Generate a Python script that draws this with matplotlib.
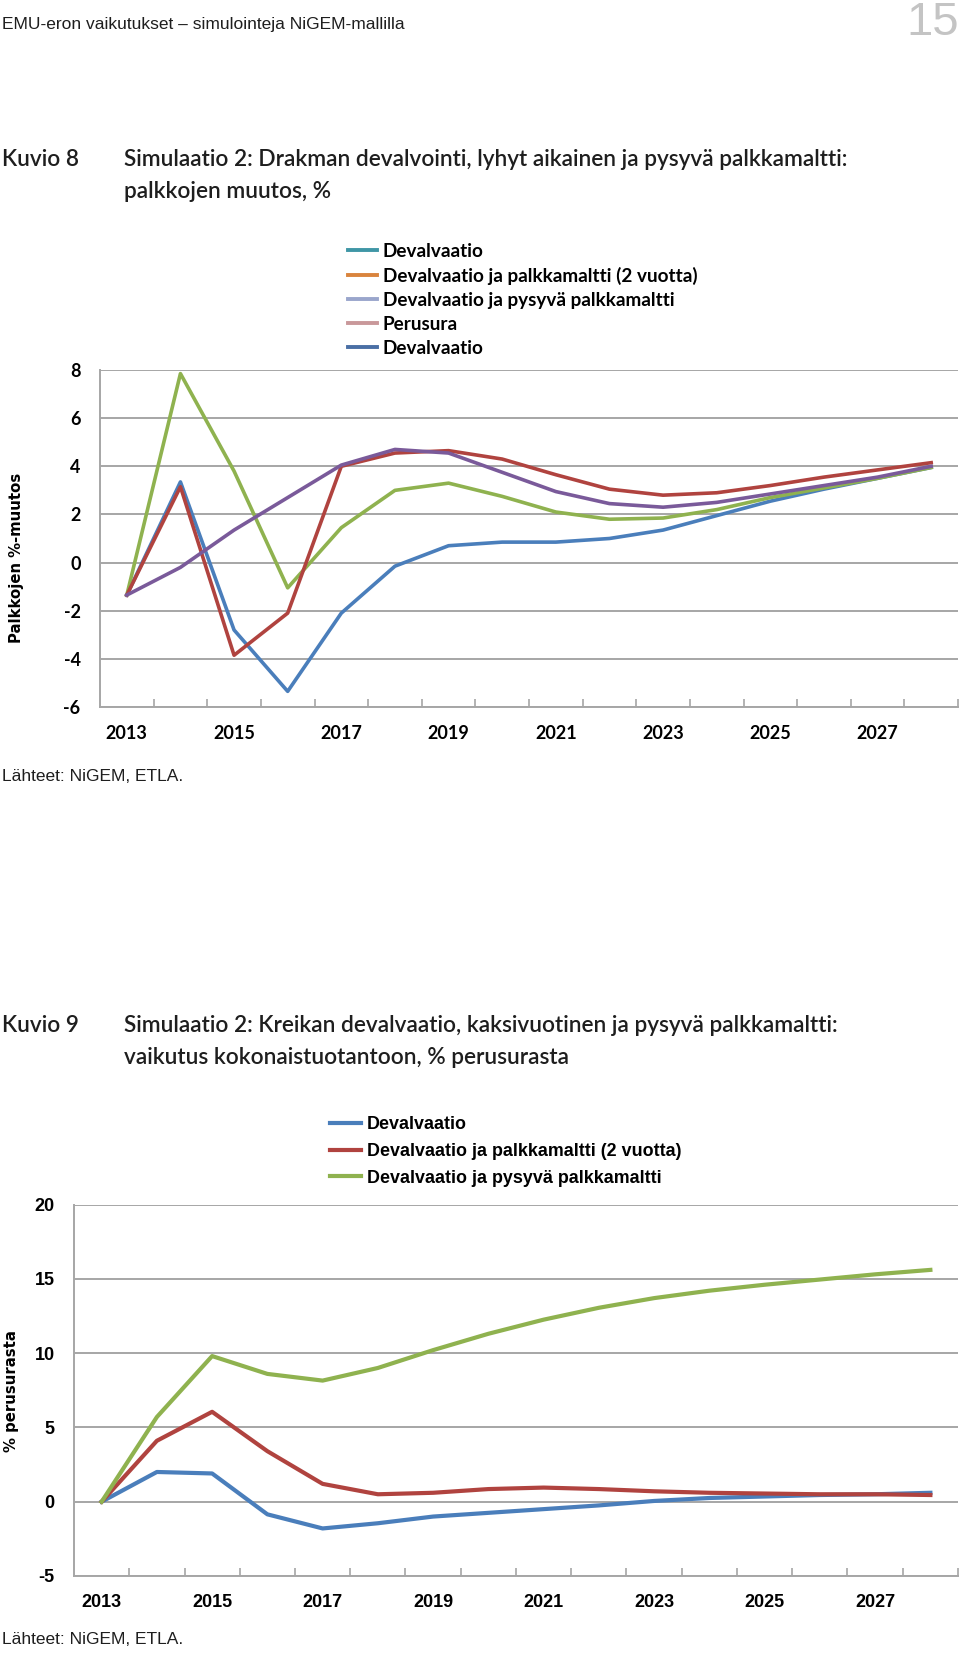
import matplotlib
matplotlib.use("Agg")
import matplotlib.pyplot as plt
from matplotlib.lines import Line2D

# ── Data ──────────────────────────────────────────────────────────────────────
YEARS = list(range(2013, 2029))
YEAR_LABELS = [str(y) for y in range(2013, 2029, 2)]

# Kuvio 8: palkkojen muutos, %
WAGE_DEVAL = [-1.35, 3.35, -2.8, -5.35, -2.1, -0.15, 0.7, 0.85, 0.85, 1.0,
              1.35, 1.95, 2.55, 3.05, 3.5, 3.95]
WAGE_2Y = [-1.35, 3.15, -3.85, -2.1, 4.0, 4.55, 4.65, 4.3, 3.65, 3.05,
           2.8, 2.9, 3.2, 3.55, 3.85, 4.15]
WAGE_PERM = [-1.35, 7.85, 3.8, -1.05, 1.45, 3.0, 3.3, 2.75, 2.1, 1.8,
             1.85, 2.2, 2.7, 3.1, 3.5, 3.95]
WAGE_BASE = [-1.35, -0.2, 1.35, 2.7, 4.05, 4.7, 4.55, 3.75, 2.95, 2.45,
             2.3, 2.5, 2.85, 3.2, 3.55, 4.0]
WAGE_TICKS = [-6, -4, -2, 0, 2, 4, 6, 8]
WAGE_LEGEND = ["Devalvaatio", "Devalvaatio ja palkkamaltti (2 vuotta)",
               "Devalvaatio ja pysyvä palkkamaltti", "Perusura", "Devalvaatio"]

# Kuvio 9: vaikutus kokonaistuotantoon, % perusurasta
GDP_DEVAL = [0.0, 2.0, 1.9, -0.85, -1.8, -1.45, -1.0, -0.75, -0.5, -0.25,
             0.05, 0.25, 0.35, 0.45, 0.5, 0.6]
GDP_2Y = [0.0, 4.1, 6.05, 3.4, 1.2, 0.5, 0.6, 0.85, 0.95, 0.85,
          0.7, 0.6, 0.55, 0.5, 0.5, 0.45]
GDP_PERM = [0.0, 5.7, 9.8, 8.6, 8.15, 9.0, 10.2, 11.3, 12.25, 13.05,
            13.7, 14.2, 14.6, 14.95, 15.3, 15.6]
GDP_TICKS = [-5, 0, 5, 10, 15, 20]
GDP_LEGEND = ["Devalvaatio", "Devalvaatio ja palkkamaltti (2 vuotta)",
              "Devalvaatio ja pysyvä palkkamaltti"]

# ── Style ─────────────────────────────────────────────────────────────────────
SANS = ["Liberation Sans", "DejaVu Sans"]
TITLE = ["Lato", "DejaVu Sans"]
BLUE, RED, GREEN, PURPLE = "#4a7ebb", "#b0433f", "#8fb24f", "#7a5a9a"
LEG1_COLORS = ["#3f96a6", "#d9843d", "#9aa6cc", "#c9989a", "#4a6fa5"]
GRID = "#a6a6a6"
INK = "#1e1e1e"
W, H = 960, 1653


def fx(px):
    return px / W


def fy(py):
    return 1 - py / H


def style_axes(ax, ticks, tick_font, tick_size):
    n = len(YEARS)
    ax.set_xlim(-0.5, n - 0.5)
    ax.set_ylim(ticks[0], ticks[-1])
    ax.set_yticks(ticks)
    ax.set_yticklabels([str(t) for t in ticks], family=tick_font,
                       fontsize=tick_size, fontweight="bold")
    ax.set_xticks(range(0, n, 2))
    ax.set_xticklabels(YEAR_LABELS, family=tick_font,
                       fontsize=tick_size, fontweight="bold")
    ax.set_xticks([k + 0.5 for k in range(n)], minor=True)
    ax.tick_params(axis="x", which="major", length=0, pad=13)
    ax.tick_params(axis="x", which="minor", direction="in", length=6,
                   width=1.2, color=GRID)
    ax.tick_params(axis="y", length=0, pad=14)
    ax.grid(axis="y", color=GRID, linewidth=1.4)
    ax.set_axisbelow(True)
    for s in ("top", "right"):
        ax.spines[s].set_visible(False)
    for s in ("left", "bottom"):
        ax.spines[s].set_color(GRID)
        ax.spines[s].set_linewidth(1.4)


def title_block(y1, y2, label, line1, line2):
    kw = dict(family=TITLE, fontweight="semibold", fontsize=16.3,
              va="center", ha="left", color=INK)
    fig.text(fx(2), fy(y1), label, **kw)
    fig.text(fx(124), fy(y1), line1, **kw)
    fig.text(fx(124), fy(y2), line2, **kw)


fig = plt.figure(figsize=(W / 100, H / 100), dpi=100)

# ── Page header ───────────────────────────────────────────────────────────────
fig.text(fx(2), fy(25), "EMU-eron vaikutukset – simulointeja NiGEM-mallilla",
         family=SANS, fontsize=12.5, va="center", ha="left", color=INK)
fig.text(fx(959), fy(35), "15", family=SANS, fontsize=34,
         va="baseline", ha="right", color="#c4c4c4")

# ── Kuvio 8 ───────────────────────────────────────────────────────────────────
title_block(159, 191, "Kuvio 8",
            "Simulaatio 2: Drakman devalvointi, lyhyt aikainen ja pysyvä palkkamaltti:",
            "palkkojen muutos, %")

ax1 = fig.add_axes([fx(100), fy(707), (958 - 100) / W, (707 - 370) / H])
x = range(len(YEARS))
ax1.plot(x, WAGE_DEVAL, color=BLUE, lw=2.6, solid_joinstyle="round")
ax1.plot(x, WAGE_PERM, color=GREEN, lw=2.6, solid_joinstyle="round")
ax1.plot(x, WAGE_2Y, color=RED, lw=2.6, solid_joinstyle="round")
ax1.plot(x, WAGE_BASE, color=PURPLE, lw=2.6, solid_joinstyle="round")
style_axes(ax1, WAGE_TICKS, "Lato", 13)

handles1 = [Line2D([], [], color=c, lw=2.8) for c in LEG1_COLORS]
fig.legend(handles1, WAGE_LEGEND, loc="upper left",
           bbox_to_anchor=(fx(348), fy(243)), frameon=False,
           prop={"family": "Lato", "weight": "bold", "size": 13.6},
           handlelength=1.53, handletextpad=0.32, labelspacing=0.37,
           borderpad=0, borderaxespad=0)

fig.text(fx(17), fy(558), "Palkkojen %-muutos", rotation=90,
         family="DejaVu Sans", fontweight="bold", fontsize=10.7,
         va="center", ha="center")
fig.text(fx(2), fy(776), "Lähteet: NiGEM, ETLA.", family=SANS,
         fontsize=12.5, va="center", ha="left", color=INK)

# ── Kuvio 9 ───────────────────────────────────────────────────────────────────
title_block(1026, 1058, "Kuvio 9",
            "Simulaatio 2: Kreikan devalvaatio, kaksivuotinen ja pysyvä palkkamaltti:",
            "vaikutus kokonaistuotantoon, % perusurasta")

ax2 = fig.add_axes([fx(74), fy(1576), (958 - 74) / W, (1576 - 1204.5) / H])
l1, = ax2.plot(x, GDP_DEVAL, color=BLUE, lw=3.0, solid_joinstyle="round")
l2, = ax2.plot(x, GDP_2Y, color=RED, lw=3.0, solid_joinstyle="round")
l3, = ax2.plot(x, GDP_PERM, color=GREEN, lw=3.0, solid_joinstyle="round")
style_axes(ax2, GDP_TICKS, SANS, 13)

fig.legend([l1, l2, l3], GDP_LEGEND, loc="upper left",
           bbox_to_anchor=(fx(330), fy(1116)), frameon=False,
           prop={"family": SANS, "weight": "bold", "size": 12.9},
           handlelength=1.72, handletextpad=0.34, labelspacing=0.55,
           borderpad=0, borderaxespad=0)

fig.text(fx(12), fy(1391), "% perusurasta", rotation=90,
         family="DejaVu Sans", fontweight="bold", fontsize=10.7,
         va="center", ha="center")
fig.text(fx(2), fy(1640), "Lähteet: NiGEM, ETLA.", family=SANS,
         fontsize=12.5, va="center", ha="left", color=INK)

fig.savefig("out.png", dpi=100, facecolor="white")
